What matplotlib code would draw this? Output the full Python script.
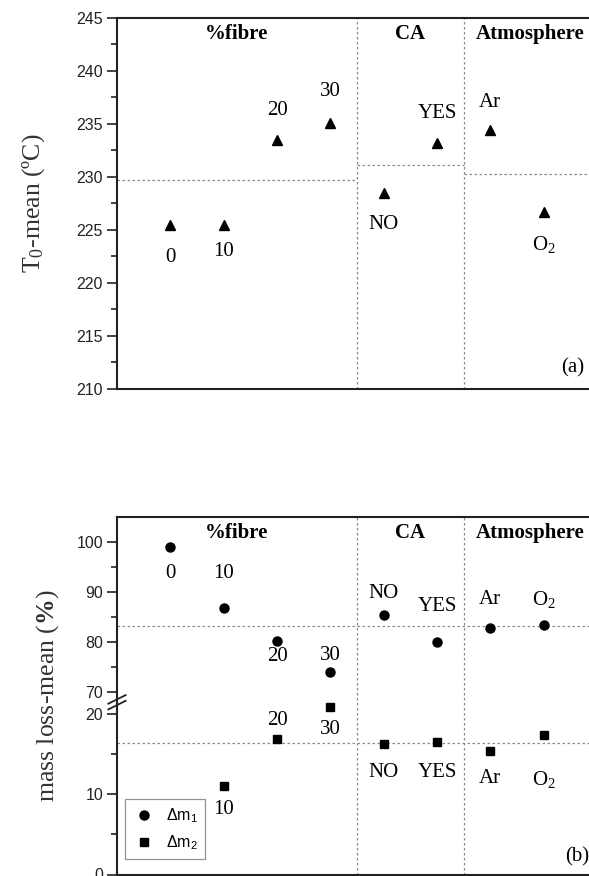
import numpy as np
import matplotlib
matplotlib.use("Agg")
import matplotlib.pyplot as plt
from matplotlib.ticker import FixedLocator, NullLocator

plt.rcParams['font.family'] = ['Liberation Sans', 'DejaVu Sans']
plt.rcParams['mathtext.fontset'] = 'custom'
plt.rcParams['mathtext.rm'] = 'Liberation Serif'
plt.rcParams['mathtext.it'] = 'Liberation Serif:italic'
plt.rcParams['mathtext.bf'] = 'Liberation Serif:bold'
plt.rcParams['mathtext.sf'] = 'Liberation Sans'

# ---- data ----
labels = ['0', '10', '20', '30', 'NO', 'YES', 'Ar', r'O$_2$']
groups = ['%fibre', 'CA', 'Atmosphere']
group_sizes = [4, 2, 2]

t0_mean = [225.5, 225.5, 233.5, 235.1, 228.5, 233.2, 234.4, 226.7]
t0_group_mean = [229.7, 231.1, 230.3]

dm1 = [98.9, 86.7, 80.1, 74.0, 85.4, 80.0, 82.7, 83.3]
dm2 = [np.nan, 11.0, 16.9, 20.9, 16.2, 16.5, 15.4, 17.4]
dm1_mean = 83.1
dm2_mean = 16.4

# label offsets in pixels (+ up, - down)
t0_off = [-33, -27, 29, 31, -32, 29, 28, -33]
dm1_off = [-26, 35, -15, 16, 21, 35, 29, 26]
dm2_off = [0, -23, 18, -23, -28, -31, -28, -45]

SERIF = 'Liberation Serif'
GRID = dict(color='#8a8a8a', ls=(0, (2, 2)), lw=0.9)

x = np.arange(1, len(labels) + 1)
bounds = np.cumsum([0] + group_sizes) + 0.5
bounds[0] = 0
xmax = 9

fig = plt.figure(figsize=(5.89, 8.76), dpi=100)
W, H = 589, 876
ax1 = fig.add_axes([117 / W, 1 - 389 / H, 480 / W, (389 - 17.7) / H])
ax2 = fig.add_axes([117 / W, 1 - 874.5 / H, 480 / W, (874.5 - 517) / H])


def style(ax):
    ax.set_xlim(0, xmax)
    ax.xaxis.set_major_locator(NullLocator())
    for s in ['left', 'top', 'bottom', 'right']:
        ax.spines[s].set_linewidth(1.5)
        ax.spines[s].set_color('#222222')
    ax.tick_params(axis='y', which='major', direction='out', length=7, width=1.2,
                   labelsize=11.5, pad=3, colors='#222222')
    ax.tick_params(axis='y', which='minor', direction='out', length=4, width=1.2,
                   colors='#222222')
    for i in range(1, len(bounds) - 1):
        ax.axvline(bounds[i], **GRID)
    for g, lo, hi in zip(groups, bounds[:-1], list(bounds[1:-1]) + [xmax]):
        ax.text((lo + hi) / 2, 0.955, g, transform=ax.get_xaxis_transform(),
                ha='center', va='center', family=SERIF, fontweight='bold', fontsize=15)


def annotate(ax, xs, ys, offs):
    for xi, yi, lab, off in zip(xs, ys, labels, offs):
        if np.isnan(yi):
            continue
        ax.annotate(lab, (xi, yi), xytext=(0, off * 0.72), textcoords='offset points',
                    ha='center', va='center', family=SERIF, fontsize=15)


# ---- panel (a) ----
style(ax1)
ax1.set_ylim(210, 245)
ax1.yaxis.set_major_locator(FixedLocator(np.arange(210, 246, 5)))
ax1.yaxis.set_minor_locator(FixedLocator(np.arange(212.5, 245, 5)))
for m, lo, hi in zip(t0_group_mean, bounds[:-1], list(bounds[1:-1]) + [xmax]):
    ax1.plot([lo, hi], [m, m], **GRID)
ax1.plot(x, t0_mean, '^', color='black', ms=7, ls='none')
annotate(ax1, x, t0_mean, t0_off)
ax1.set_ylabel(r'T$_0$-mean (ºC)', family=SERIF, fontsize=18.5, labelpad=21,
               color='#333333')
ax1.text(8.55, 0.057, '(a)', transform=ax1.get_xaxis_transform(),
         ha='center', va='center', family=SERIF, fontsize=15)

# ---- panel (b): broken y axis via a function scale ----
K_LO, K_HI, LO_TOP, HI_BOT, GAP = 8.07, 5.02, 21.4, 68.0, 0.5


def fwd(y):
    y = np.asarray(y, dtype=float)
    a = LO_TOP * K_LO
    lo = y * K_LO
    mid = a + (y - LO_TOP) / (HI_BOT - LO_TOP) * GAP
    hi = a + GAP + (y - HI_BOT) * K_HI
    return np.where(y <= LO_TOP, lo, np.where(y >= HI_BOT, hi, mid))


def inv(s):
    s = np.asarray(s, dtype=float)
    a = LO_TOP * K_LO
    lo = s / K_LO
    mid = LO_TOP + (s - a) / GAP * (HI_BOT - LO_TOP)
    hi = HI_BOT + (s - a - GAP) / K_HI
    return np.where(s <= a, lo, np.where(s >= a + GAP, hi, mid))


style(ax2)
ax2.set_yscale('function', functions=(fwd, inv))
ax2.set_ylim(0, 105)
ax2.yaxis.set_major_locator(FixedLocator([0, 10, 20, 70, 80, 90, 100]))
ax2.yaxis.set_minor_locator(FixedLocator([5, 15, 75, 85, 95]))
ax2.yaxis.set_major_formatter(matplotlib.ticker.FormatStrFormatter('%d'))
ax2.yaxis.set_minor_formatter(matplotlib.ticker.NullFormatter())
ax2.axhline(dm1_mean, **GRID)
ax2.axhline(dm2_mean, **GRID)
h1, = ax2.plot(x, dm1, 'o', color='black', ms=6.5, ls='none')
h2, = ax2.plot(x, dm2, 's', color='black', ms=6, ls='none')
annotate(ax2, x, dm1, dm1_off)
annotate(ax2, x, dm2, dm2_off)
ax2.set_ylabel(r'mass loss-mean ($\mathbf{\%}$)', family=SERIF, fontsize=18.5, labelpad=11,
               color='#333333')
ax2.text(8.62, 0.049, '(b)', transform=ax2.get_xaxis_transform(),
         ha='center', va='center', family=SERIF, fontsize=15)

leg = ax2.legend([h1, h2], [r'Δm$_{\mathsf{1}}$', r'Δm$_{\mathsf{2}}$'],
                 loc='lower left', bbox_to_anchor=(0.017, 0.043), borderaxespad=0,
                 fancybox=False, edgecolor='#777777', fontsize=11.5,
                 handletextpad=0.6, borderpad=0.45, labelspacing=0.55, handlelength=1.5)
leg.get_frame().set_linewidth(0.9)

# break marks on the left spine
yb = fwd((LO_TOP + HI_BOT) / 2) / fwd(105)
for dy in (-0.008, 0.008):
    ax2.plot([-0.018, 0.018], [yb + dy - 0.012, yb + dy + 0.012], transform=ax2.transAxes,
             color='#222222', lw=1.3, clip_on=False)

fig.savefig('out.png', dpi=100)
